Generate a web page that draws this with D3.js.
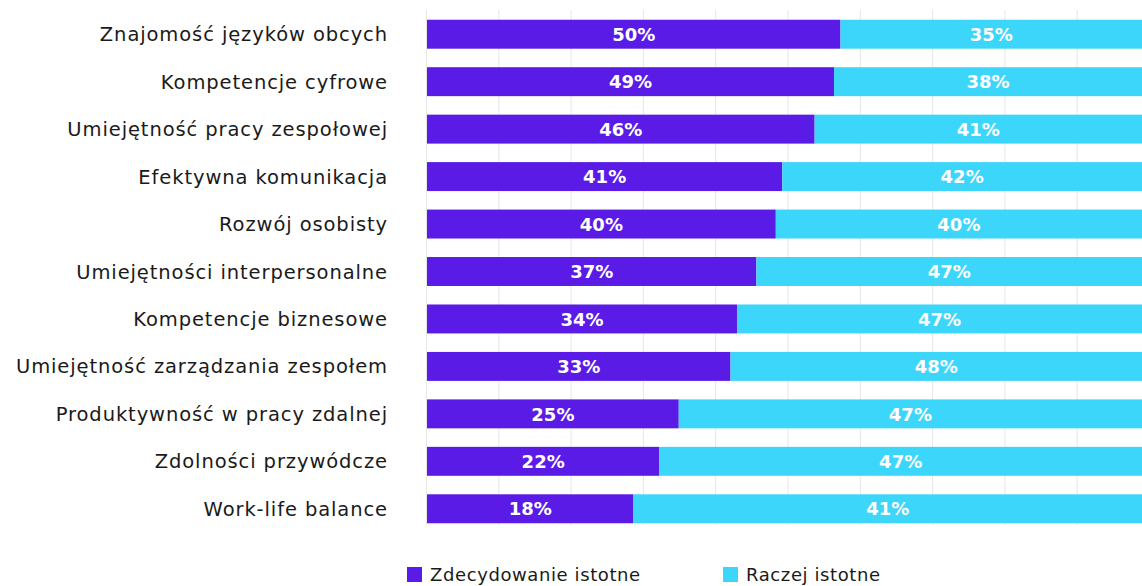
<!DOCTYPE html>
<html>
<head>
<meta charset="utf-8">
<script src="https://cdn.jsdelivr.net/npm/d3@7"></script>
<style>
  body { margin: 0; background: #fff; }
  svg { display: block; }
</style>
</head>
<body>
<script>
// Survey answers, top to bottom
var categories = [
  "Znajomość języków obcych",
  "Kompetencje cyfrowe",
  "Umiejętność pracy zespołowej",
  "Efektywna komunikacja",
  "Rozwój osobisty",
  "Umiejętności interpersonalne",
  "Kompetencje biznesowe",
  "Umiejętność zarządzania zespołem",
  "Produktywność w pracy zdalnej",
  "Zdolności przywódcze",
  "Work-life balance"
];
var zdecydowanie = [50, 49, 46, 41, 40, 37, 34, 33, 25, 22, 18];
var raczej = [35, 38, 41, 42, 40, 47, 47, 48, 47, 47, 41];
var seriesNames = ["Zdecydowanie istotne", "Raczej istotne"];
var gridTicks = [0, 10, 20, 30, 40, 50, 60, 70, 80, 90];

var colors = ["#5a1be6", "#3dd6fb"];

var width = 1142, height = 586;
var margin = { top: 10, left: 427 };
var innerW = width - margin.left;

var svg = d3.select("body").append("svg")
  .attr("width", width)
  .attr("height", height);

var g = svg.append("g")
  .attr("transform", "translate(" + margin.left + "," + margin.top + ")");

// bars begin at the plot edge, the value scale is offset a bit (as in the original)
var x = d3.scaleLinear().domain([0, 100]).range([90, 737]);
var grid = d3.scaleLinear().domain([0, 100]).range([-1, 722]);

var y = d3.scaleBand()
  .domain(categories)
  .range([5, 518])
  .paddingInner(0.39)
  .paddingOuter(0.1);

// faint vertical gridlines
g.selectAll("line.grid")
  .data(gridTicks)
  .enter().append("line")
  .attr("class", "grid")
  .attr("x1", function(d) { return grid(d) + 0.5; })
  .attr("x2", function(d) { return grid(d) + 0.5; })
  .attr("y1", 0)
  .attr("y2", 515)
  .attr("stroke", "#e6e6e6")
  .attr("stroke-width", 1);

var rows = g.selectAll("g.row")
  .data(categories)
  .enter().append("g")
  .attr("class", "row")
  .attr("transform", function(d) { return "translate(0," + y(d) + ")"; });

// purple segment
rows.append("rect")
  .attr("x", 0)
  .attr("width", function(d, i) { return x(zdecydowanie[i]); })
  .attr("height", y.bandwidth())
  .attr("fill", colors[0]);

// cyan segment, runs to the edge of the plot
rows.append("rect")
  .attr("x", function(d, i) { return x(zdecydowanie[i]); })
  .attr("width", function(d, i) { return innerW - x(zdecydowanie[i]); })
  .attr("height", y.bandwidth())
  .attr("fill", colors[1]);

var valueFont = "'DejaVu Sans', sans-serif";
var labelFont = "'DejaVu Sans', sans-serif";

rows.append("text")
  .attr("x", function(d, i) { return x(zdecydowanie[i]) / 2; })
  .attr("y", y.bandwidth() / 2)
  .attr("dy", "0.37em")
  .attr("text-anchor", "middle")
  .attr("fill", "#fff")
  .style("font-family", valueFont)
  .style("font-weight", 700)
  .style("font-size", "18px")
  .text(function(d, i) { return zdecydowanie[i] + "%"; });

rows.append("text")
  .attr("x", function(d, i) { return (x(zdecydowanie[i]) + innerW) / 2; })
  .attr("y", y.bandwidth() / 2)
  .attr("dy", "0.37em")
  .attr("text-anchor", "middle")
  .attr("fill", "#fff")
  .style("font-family", valueFont)
  .style("font-weight", 700)
  .style("font-size", "18px")
  .text(function(d, i) { return raczej[i] + "%"; });

// category labels
rows.append("text")
  .attr("x", -39)
  .attr("y", y.bandwidth() / 2)
  .attr("dy", "0.36em")
  .attr("text-anchor", "end")
  .attr("fill", "#1a1a1a")
  .style("font-family", labelFont)
  .style("font-size", "19.5px")
  .style("letter-spacing", "0.9px")
  .text(function(d) { return d; });

// legend
var legendX = [407, 723];
var legend = svg.selectAll("g.legend")
  .data(seriesNames)
  .enter().append("g")
  .attr("class", "legend")
  .attr("transform", function(d, i) { return "translate(" + legendX[i] + ",567)"; });

legend.append("rect")
  .attr("width", 15)
  .attr("height", 15)
  .attr("fill", function(d, i) { return colors[i]; });

legend.append("text")
  .attr("x", 23)
  .attr("y", 8)
  .attr("dy", "0.36em")
  .attr("fill", "#1a1a1a")
  .style("font-family", labelFont)
  .style("font-size", "18px")
  .style("letter-spacing", "0.6px")
  .text(function(d) { return d; });
</script>
</body>
</html>
